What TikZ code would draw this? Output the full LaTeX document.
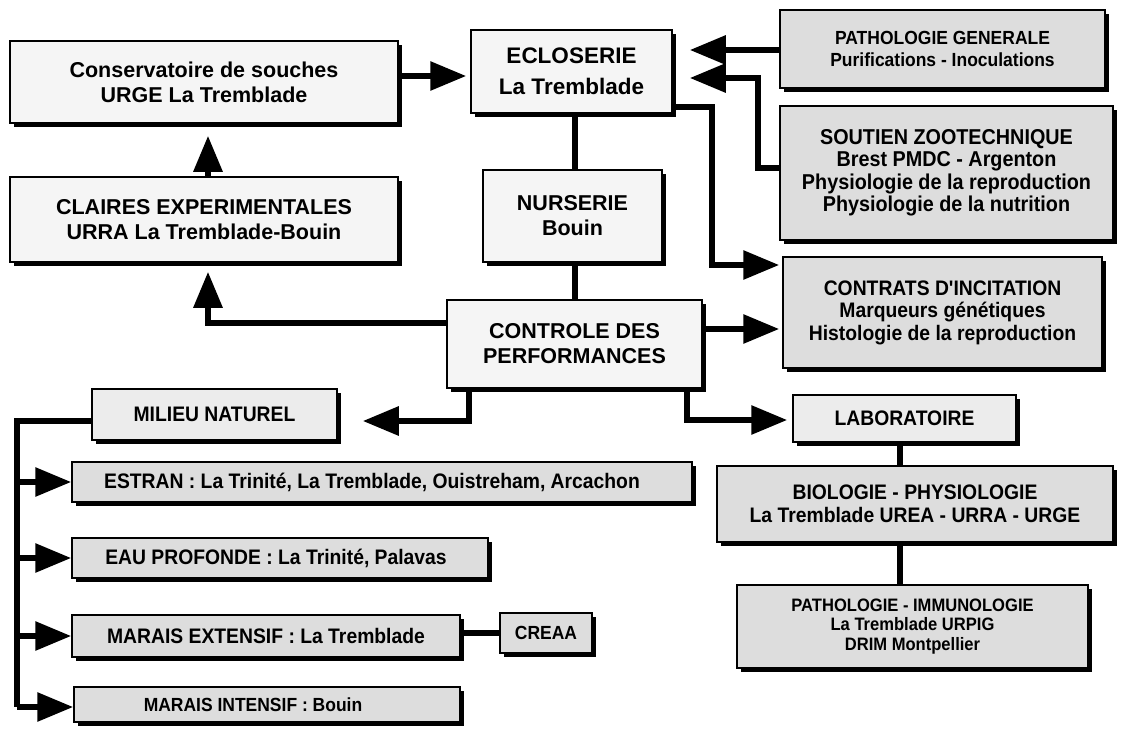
\documentclass[tikz,border=0pt]{standalone}
\usepackage{fontspec}
\setmainfont{Liberation Sans}
\newfontfamily\stipfont[FakeStretch=0.92,UprightFont={* Bold}]{Liberation Sans}
\usetikzlibrary{arrows.meta,shadows}
\newcommand\fsBig{\bfseries\fontsize{21.5}{25}\selectfont}
\newcommand\fsEcl{\bfseries\fontsize{22.5}{31}\selectfont}
\newcommand\fsPg{\stipfont\fontsize{19}{21.5}\selectfont}
\newcommand\fsSo{\stipfont\fontsize{21.5}{22.5}\selectfont}
\newcommand\fsCo{\stipfont\fontsize{21}{22.5}\selectfont}
\newcommand\fsBi{\stipfont\fontsize{21}{22.5}\selectfont}
\newcommand\fsPi{\stipfont\fontsize{18}{19.5}\selectfont}
\newcommand\fsRw{\stipfont\fontsize{21}{24}\selectfont}
\newcommand\fsMa{\stipfont\fontsize{19}{22}\selectfont}
\begin{document}
\begin{tikzpicture}[x=1pt,y=-1pt,
  bx/.style={draw=black, line width=1.5pt, align=center, inner sep=2pt,
    drop shadow={shadow xshift=4pt, shadow yshift=-4pt, fill=black, opacity=1}},
  lite/.style={bx, fill=gray!8},
  mid/.style={bx, fill=gray!15},
  dark/.style={bx, fill=gray!27},
  tBig/.style={font=\fsBig},
  tEcl/.style={font=\fsEcl},
  tPg/.style={font=\fsPg},
  tSo/.style={font=\fsSo},
  tCo/.style={font=\fsCo},
  tBi/.style={font=\fsBi},
  tPi/.style={font=\fsPi},
  tRw/.style={font=\fsRw},
  tMa/.style={font=\fsMa},
  conn/.style={line width=6pt, line join=miter},
  arr/.style={conn, -{Triangle[length=36pt,width=28pt]}}]
\useasboundingbox[fill=white] (0,0) rectangle (1121,728);

% boxes
\node[lite, tBig, minimum width=388pt, minimum height=82pt] (cons) at (204,82)
  {Conservatoire de souches\\ URGE La Tremblade};
\node[lite, tEcl, minimum width=201pt, minimum height=83pt] (ecl) at (571.5,71.5)
  {ECLOSERIE\\ La Tremblade};
\node[dark, tPg, minimum width=325pt, minimum height=78pt] (pathg) at (942.5,49)
  {PATHOLOGIE GENERALE\\ Purifications - Inoculations};
\node[dark, tSo, minimum width=333pt, minimum height=134pt] (sout) at (946.5,173)
  {SOUTIEN ZOOTECHNIQUE\\ Brest PMDC - Argenton\\ Physiologie de la reproduction\\ Physiologie de la nutrition};
\node[lite, tBig, minimum width=388pt, minimum height=85pt] (claires) at (204,219.5)
  {CLAIRES EXPERIMENTALES\\ URRA La Tremblade-Bouin};
\node[lite, tBig, minimum width=179pt, minimum height=92pt] (nurs) at (572.5,216)
  {NURSERIE\\ Bouin};
\node[lite, tBig, minimum width=255pt, minimum height=88pt] (ctrl) at (574.5,344)
  {CONTROLE DES\\ PERFORMANCES};
\node[dark, tCo, minimum width=319pt, minimum height=111pt] (contr) at (942.5,312.5)
  {CONTRATS D'INCITATION\\ Marqueurs génétiques\\ Histologie de la reproduction};
\node[mid, tRw, minimum width=245pt, minimum height=51pt] (milieu) at (214.5,414.5)
  {MILIEU NATUREL};
\node[mid, tRw, minimum width=223pt, minimum height=47pt] (lab) at (904.5,418.5)
  {LABORATOIRE};
\node[dark, tBi, minimum width=396pt, minimum height=76pt] (bio) at (915,504)
  {BIOLOGIE - PHYSIOLOGIE\\ La Tremblade UREA - URRA - URGE};
\node[dark, tPi, minimum width=351pt, minimum height=83pt] (pimm) at (912.5,626.5)
  {PATHOLOGIE - IMMUNOLOGIE\\ La Tremblade URPIG\\ DRIM Montpellier};
\node[dark, tRw, minimum width=620pt, minimum height=40pt] (estran) at (382,482)
  {ESTRAN : La Trinité, La Tremblade, Ouistreham, Arcachon\hspace*{20pt}};
\node[dark, tRw, minimum width=416pt, minimum height=40pt] (eau) at (280,558)
  {EAU PROFONDE : La Trinité, Palavas\hspace*{8pt}};
\node[dark, tRw, minimum width=388pt, minimum height=42pt] (mext) at (266,636)
  {MARAIS EXTENSIF : La Tremblade};
\node[dark, tMa, minimum width=92pt, minimum height=40pt] (creaa) at (546,633)
  {CREAA};
\node[dark, tMa, minimum width=386pt, minimum height=35pt] (mint) at (267,704.5)
  {MARAIS INTENSIF : Bouin\hspace*{28pt}};

% bend points
\coordinate (kSv) at (758,78);
\coordinate (kSy) at (0,168);
\coordinate (kEo) at (712,107);
\coordinate (kEc) at (712,265);
\coordinate (kCc) at (0,329);
\coordinate (kCl) at (208,323);
\coordinate (kUp) at (208,0);
\coordinate (kMi) at (469,421);
\coordinate (kLa) at (687,420);
\coordinate (kSp) at (17,421);
\coordinate (kSb) at (17,707);
\coordinate (kNu) at (575,0);
\coordinate (kLb) at (900,0);
\coordinate (kPg) at (0,50);
\coordinate (kCe) at (0,76);

% connectors
\draw[arr, shorten >=4pt] (cons.east |- kCe) -- (ecl.west |- kCe);
\draw[arr, shorten >=12pt] (claires.north -| kUp) -- (cons.south -| kUp);
\draw[arr, shorten >=17pt] (pathg.west |- kPg) -- (ecl.east |- kPg);
\draw[arr, shorten >=17pt] (sout.west |- kSy) -| (kSv) -- (ecl.east |- kSv);
\draw[arr, shorten >=3pt] (ecl.east |- kEo) -- (kEo) -- (kEc) -- (contr.west |- kEc);
\draw[arr, shorten >=3pt] (ctrl.east |- kCc) -- (contr.west |- kCc);
\draw[conn] (ecl.south -| kNu) -- (nurs.north -| kNu);
\draw[conn] (nurs.south -| kNu) -- (ctrl.north -| kNu);
\draw[arr, shorten >=9pt] (ctrl.west |- kCl) -- (kCl) -- (claires.south -| kCl);
\draw[arr, shorten >=25pt] (ctrl.south -| kMi) -- (kMi) -- (milieu.east |- kMi);
\draw[arr, shorten >=5pt] (ctrl.south -| kLa) -- (kLa) -- (lab.west |- kLa);
\draw[conn] (lab.south -| kLb) -- (bio.north -| kLb);
\draw[conn] (bio.south -| kLb) -- (pimm.north -| kLb);
\draw[conn] (milieu.west |- kSp) -- (kSp) -- (kSb);
\draw[arr] (kSp |- estran.west) -- (estran.west);
\draw[arr] (kSp |- eau.west) -- (eau.west);
\draw[arr] (kSp |- mext.west) -- (mext.west);
\draw[arr] (kSb) -- (mint.west |- kSb);
\draw[conn] (mext.east |- creaa.west) -- (creaa.west);
\end{tikzpicture}
\end{document}
